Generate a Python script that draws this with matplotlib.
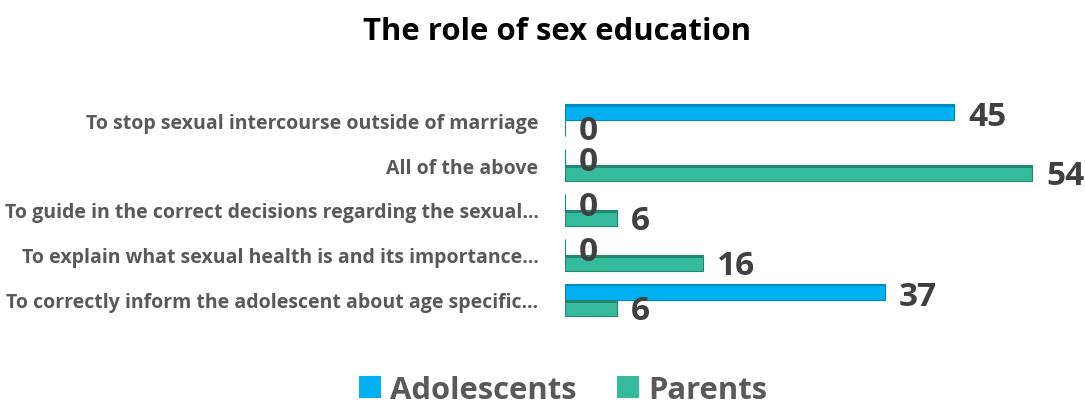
import matplotlib
matplotlib.use("Agg")
import matplotlib.pyplot as plt
import numpy as np
from matplotlib.patches import Patch

categories = [
    "To stop sexual intercourse outside of marriage",
    "All of the above",
    "To guide in the correct decisions regarding the sexual\u2026",
    "To explain what sexual health is and its importance\u2026",
    "To correctly inform the adolescent about age specific\u2026",
]
adolescents = [45, 0, 0, 0, 37]
parents = [0, 54, 6, 16, 6]
series_names = ["Adolescents", "Parents"]

blue, blue_dark = "#00B0F0", "#0088C0"
green, green_dark = "#35BB9B", "#23866E"
label_col = "#595959"
num_col = "#404040"

plt.rcParams['font.family'] = ['Open Sans', 'DejaVu Sans']

W, H = 1085, 406
fig = plt.figure(figsize=(W / 100, H / 100), dpi=100)
x0_px, x1_px = 565, 1084
xmax = 60
row0_px, step_px = 121, 45
ylo, yhi = -0.7, 4.7
top_px = row0_px + ylo * step_px
bot_px = row0_px + yhi * step_px
ax = fig.add_axes([x0_px / W, 1 - bot_px / H, (x1_px - x0_px) / W, (bot_px - top_px) / H])
ax.set_xlim(0, xmax)
ax.set_ylim(yhi, ylo)

y = np.arange(len(categories))
h = 0.36
ya = y - h / 2
yp = y + h / 2
ax.barh(ya, adolescents, height=h, color=blue, edgecolor=blue_dark, linewidth=0.8)
ax.barh(yp, parents, height=h, color=green, edgecolor=green_dark, linewidth=0.8)
s = 0.06
ax.barh(ya - h / 2 + s / 2, adolescents, height=s, color=blue_dark, linewidth=0)
ax.barh(yp - h / 2 + s / 2, parents, height=s, color=green_dark, linewidth=0)

for yy, v in zip(ya, adolescents):
    ax.annotate(str(v), (v, yy), xytext=(10, -3), textcoords="offset points",
                ha="left", va="center", fontsize=24, fontweight="bold", color=num_col)
for yy, v in zip(yp, parents):
    ax.annotate(str(v), (v, yy), xytext=(10, -2), textcoords="offset points",
                ha="left", va="center", fontsize=24, fontweight="bold", color=num_col)

ax.set_yticks(y)
ax.set_yticklabels(categories, fontsize=14, fontweight="bold", color=label_col)
ax.tick_params(axis="y", length=0, pad=19)
ax.set_xticks([])
for sp in ax.spines.values():
    sp.set_visible(False)

fig.text(557 / W, 1 - 32 / H, "The role of sex education", ha="center", va="center",
         fontsize=22.4, fontweight="bold", color="black")

handles = [Patch(facecolor=blue), Patch(facecolor=green)]
fig.legend(handles, series_names, loc="center", bbox_to_anchor=(563 / W, 1 - 391 / H),
           ncol=2, frameon=False, handlelength=0.7, handleheight=0.7,
           handletextpad=0.3, columnspacing=1.3,
           prop={"weight": "bold", "size": 22.3})
for t in fig.legends[0].get_texts():
    t.set_color(label_col)

fig.savefig("out.png", dpi=100)
